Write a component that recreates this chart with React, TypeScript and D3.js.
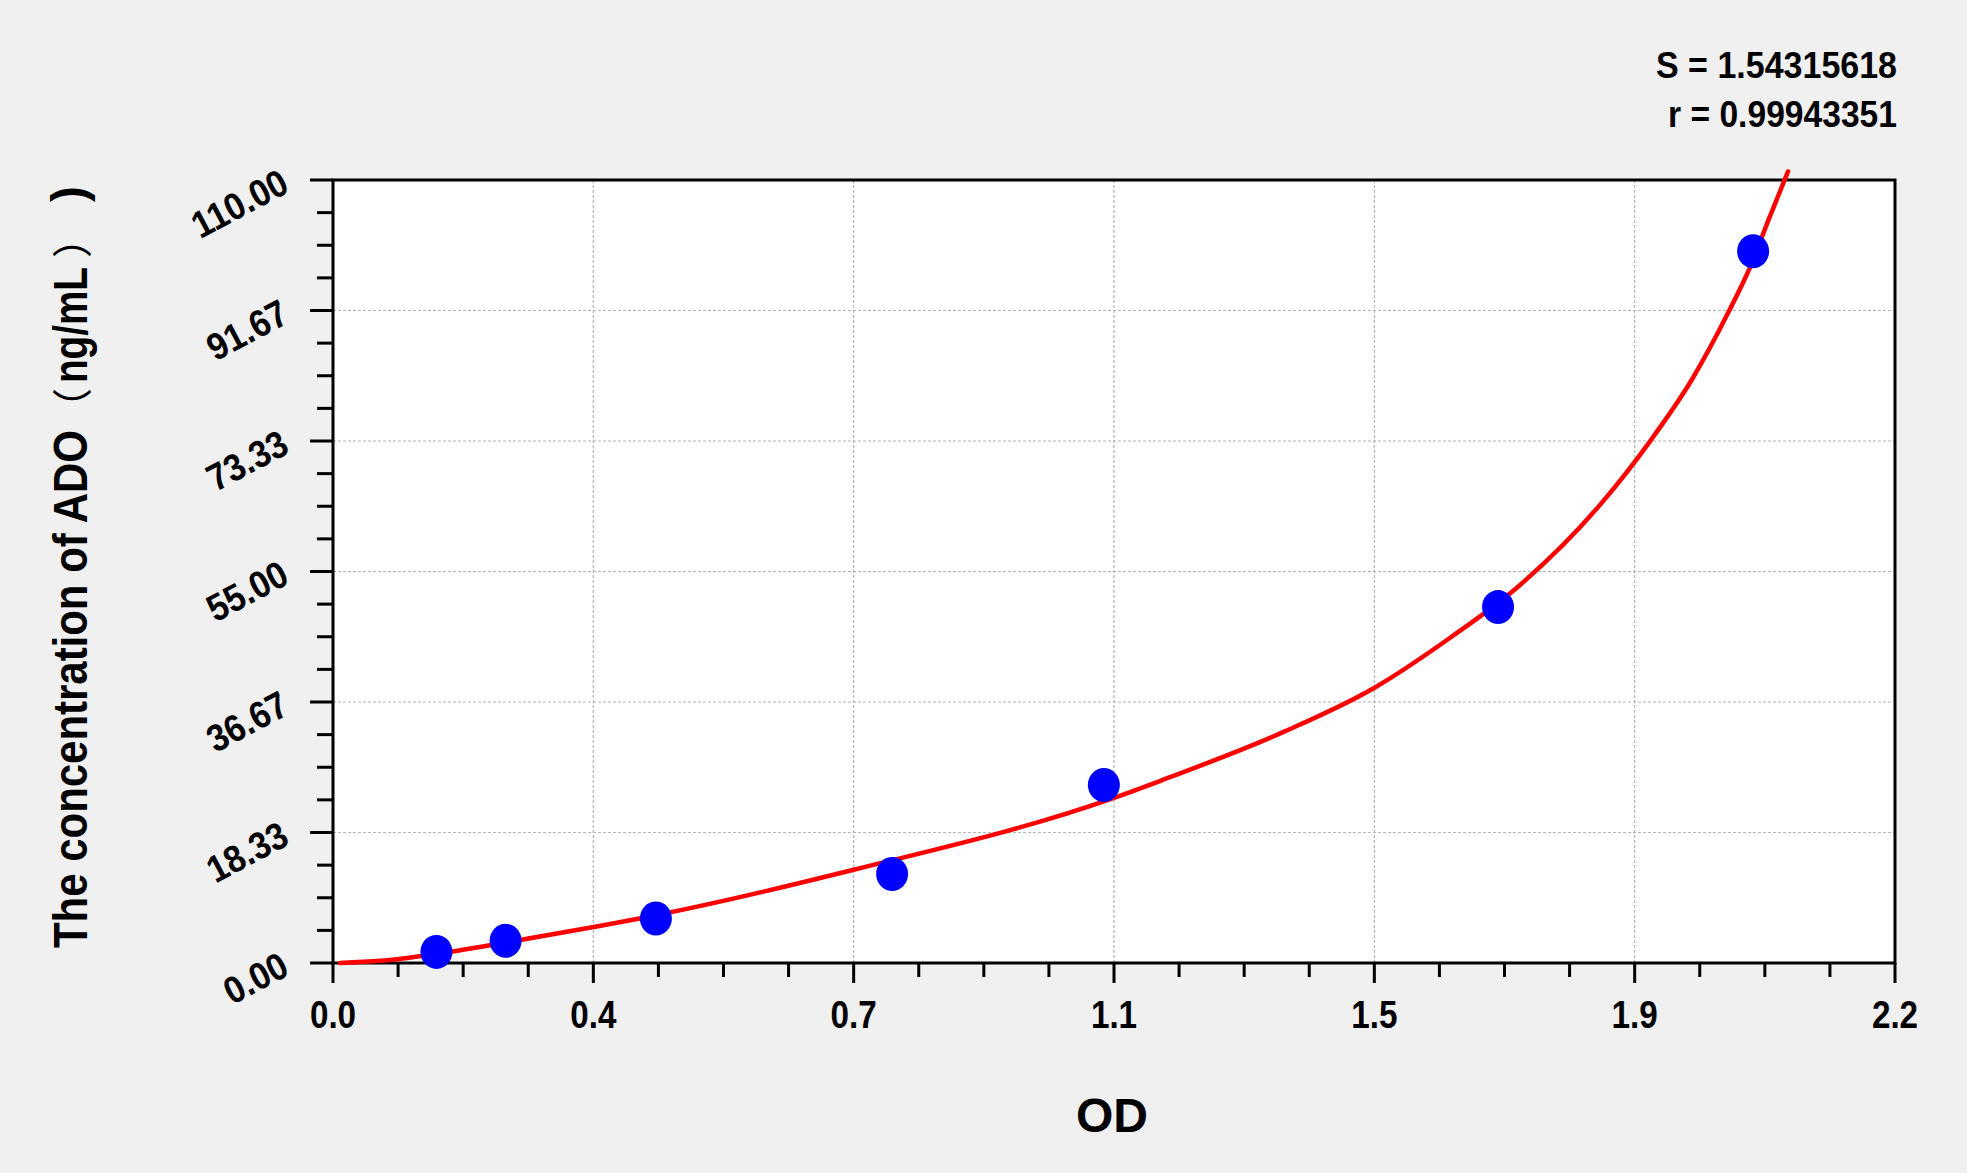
import * as d3 from "d3";

// standard points (OD vs concentration)
const odValues = [0.148, 0.247, 0.462, 0.8, 1.103, 1.667, 2.032];
const concValues = [1.56, 3.12, 6.25, 12.5, 25, 50, 100];

// fitted curve
const fitOd = [0.01, 0.068, 0.144, 0.24, 0.373, 0.45, 0.745, 1.1175, 1.184, 1.361, 1.489, 1.6, 1.696, 1.815, 1.886, 1.944, 1.996, 2.03, 2.054, 2.082];
const fitConc = [0, 0.3, 1.22, 2.75, 5.06, 6.47, 13.1, 23.2, 25.6, 32.5, 38.6, 45.8, 52.9, 64.6, 73.5, 81.9, 91.3, 98.3, 104.4, 111.2];

const xTickLabels = ["0.0", "0.4", "0.7", "1.1", "1.5", "1.9", "2.2"];
const yTickLabels = ["0.00", "18.33", "36.67", "55.00", "73.33", "91.67", "110.00"];

const statLines = ["S = 1.54315618", "r = 0.99943351"];

const W = 1967;
const H = 1173;
const X_MAX = 2.235;
const Y_MAX = 110;
const FONT = "'Liberation Sans', Arial, sans-serif";

export default function App() {
  const left = 333, right = 1895, top = 180, bottom = 963;
  const x = d3.scaleLinear().domain([0, X_MAX]).range([left, right]);
  const y = d3.scaleLinear().domain([0, Y_MAX]).range([bottom, top]);

  const nx = xTickLabels.length - 1;
  const ny = yTickLabels.length - 1;
  const xMajor = xTickLabels.map((_, i) => (i * X_MAX) / nx);
  const yMajor = yTickLabels.map((_, i) => (i * Y_MAX) / ny);
  const xMinor = d3.range(nx * 4 + 1).filter((i) => i % 4 !== 0).map((i) => (i * X_MAX) / (nx * 4));
  const yMinor = d3.range(ny * 4 + 1).filter((i) => i % 4 !== 0).map((i) => (i * Y_MAX) / (ny * 4));

  const fit = fitOd.map((d, i) => [d, fitConc[i]] as [number, number]);
  const line = d3
    .line<[number, number]>()
    .x((d) => x(d[0]))
    .y((d) => y(d[1]))
    .curve(d3.curveMonotoneX);

  return (
    <svg
      width={W}
      height={H}
      style={{ position: "absolute", left: 0, top: 0 }}
      fontFamily={FONT}
    >
      <rect width={W} height={H} fill="#f0f0f0" />
      <rect x={left} y={top} width={right - left} height={bottom - top} fill="#fff" />

      {/* grid */}
      <g stroke="#b4b4b4" strokeWidth={1.2} strokeDasharray="3,2">
        {xMajor.slice(1, -1).map((v, i) => (
          <line key={"gx" + i} x1={x(v)} x2={x(v)} y1={top} y2={bottom} />
        ))}
        {yMajor.slice(1, -1).map((v, i) => (
          <line key={"gy" + i} x1={left} x2={right} y1={y(v)} y2={y(v)} />
        ))}
      </g>

      {/* frame */}
      <rect x={left} y={top} width={right - left} height={bottom - top} fill="none" stroke="#000" strokeWidth={3} />

      {/* ticks */}
      <g stroke="#000" strokeWidth={3}>
        {xMajor.map((v, i) => (
          <line key={"tx" + i} x1={x(v)} x2={x(v)} y1={bottom} y2={bottom + 20} />
        ))}
        {xMinor.map((v, i) => (
          <line key={"mx" + i} x1={x(v)} x2={x(v)} y1={bottom} y2={bottom + 14} />
        ))}
        {yMajor.map((v, i) => (
          <line key={"ty" + i} x1={left} x2={left - 23} y1={y(v)} y2={y(v)} />
        ))}
        {yMinor.map((v, i) => (
          <line key={"my" + i} x1={left} x2={left - 16} y1={y(v)} y2={y(v)} />
        ))}
      </g>

      {/* tick labels */}
      <g fontWeight="bold" fill="#000">
        {xTickLabels.map((t, i) => (
          <text
            key={"lx" + i}
            transform={`translate(${x(xMajor[i])},1028) scale(0.95,1.1)`}
            textAnchor="middle"
            fontSize={35}
          >
            {t}
          </text>
        ))}
        {yTickLabels.map((t, i) => (
          <text
            key={"ly" + i}
            textAnchor="end"
            fontSize={36}
            transform={`translate(${left - 42},${y(yMajor[i]) + 11}) rotate(-28) scale(0.95,1.05)`}
          >
            {t}
          </text>
        ))}
      </g>

      {/* fitted curve */}
      <path d={line(fit) ?? ""} fill="none" stroke="#ff0000" strokeWidth={4.5} strokeLinecap="round" />

      {/* standards */}
      <g fill="#0000ff">
        {odValues.map((d, i) => (
          <ellipse key={"p" + i} cx={x(d)} cy={y(concValues[i])} rx={16} ry={17} />
        ))}
      </g>

      {/* stats */}
      <g fontWeight="bold" fontSize={37} textAnchor="end">
        {statLines.map((t, i) => (
          <text key={"s" + i} x={1897} y={78 + i * 49} textLength={i === 0 ? 241 : 229} lengthAdjust="spacingAndGlyphs">
            {t}
          </text>
        ))}
      </g>

      {/* axis titles */}
      <text x={1112} y={1132} textAnchor="middle" fontWeight="bold" fontSize={48}>
        OD
      </text>
      <g transform="translate(87,948) rotate(-90)" fontWeight="bold" fontSize={48}>
        <text x={0} y={0} textLength={518} lengthAdjust="spacingAndGlyphs">
          The concentration of ADO
        </text>
        <text x={540} y={0} textAnchor="middle" fontWeight="normal" fontFamily="'Noto Sans CJK SC', sans-serif" fontSize={40}>
          （
        </text>
        <text x={565} y={0} textLength={116} lengthAdjust="spacingAndGlyphs">
          ng/mL
        </text>
        <text x={710} y={0} textAnchor="middle" fontWeight="normal" fontFamily="'Noto Sans CJK SC', sans-serif" fontSize={40}>
          ）
        </text>
        <text x={754} y={-2} textAnchor="middle">
          )
        </text>
      </g>
    </svg>
  );
}
